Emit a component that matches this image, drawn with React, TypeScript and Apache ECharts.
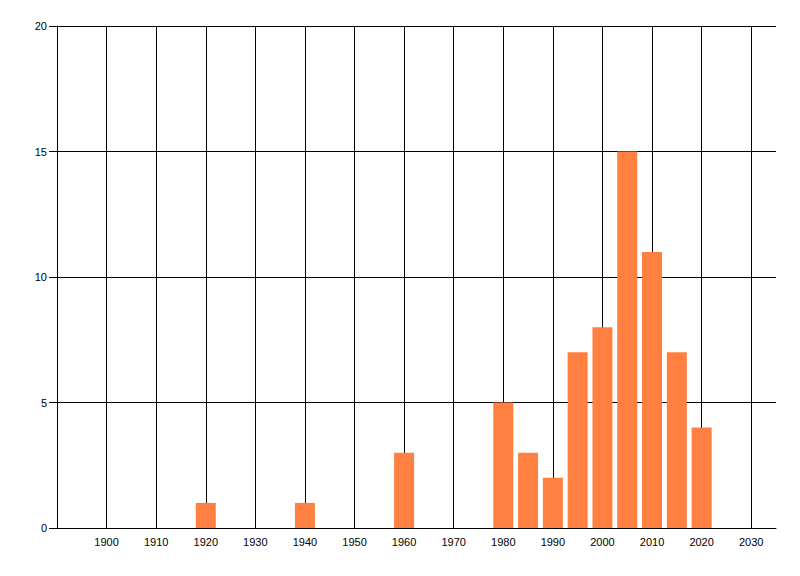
import { useEffect, useRef } from "react";
import * as echarts from "echarts";

const years = [1920, 1940, 1960, 1980, 1985, 1990, 1995, 2000, 2005, 2010, 2015, 2020];
const counts = [1, 1, 3, 5, 3, 2, 7, 8, 15, 11, 7, 4];

const X_MIN = 1890;
const X_MAX = 2035;
const Y_MAX = 20;

export default function App() {
  const elementRef = useRef<HTMLDivElement | null>(null);

  useEffect(() => {
    if (!elementRef.current) return;
    const chart = echarts.init(elementRef.current, undefined, { renderer: "svg" });
    const labelStyle = { color: "#000", fontSize: 11, fontFamily: "Liberation Sans, Arial, sans-serif" };
    chart.setOption({
      animation: false,
      backgroundColor: "#fff",
      grid: { left: 57, right: 24, top: 26, bottom: 48 },
      xAxis: {
        type: "value",
        min: X_MIN,
        max: X_MAX,
        interval: 10,
        axisLine: { show: true, onZero: false, lineStyle: { color: "#000", width: 1 } },
        axisTick: { show: false },
        axisLabel: { ...labelStyle, margin: 8, showMinLabel: false, showMaxLabel: false, formatter: (v: number) => String(v) },
        splitLine: { show: true, showMinLine: false, showMaxLine: false, lineStyle: { color: "#000", width: 1 } },
      },
      yAxis: {
        type: "value",
        min: 0,
        max: Y_MAX,
        interval: 5,
        axisLine: { show: true, lineStyle: { color: "#000", width: 1 } },
        axisTick: { show: true, length: 8, lineStyle: { color: "#000", width: 1 } },
        axisLabel: { ...labelStyle, margin: 10 },
        splitLine: { show: true, lineStyle: { color: "#000", width: 1 } },
      },
      series: [
        {
          type: "bar",
          data: years.map((year, i) => [year, counts[i]]),
          barWidth: 20,
          itemStyle: { color: "#FF8040" },
          z: 3,
        },
      ],
    });
    return () => {
      chart.dispose();
    };
  }, []);

  return (
    <div
      ref={elementRef}
      style={{ position: "fixed", left: 0, top: 0, width: 800, height: 576 }}
    />
  );
}
